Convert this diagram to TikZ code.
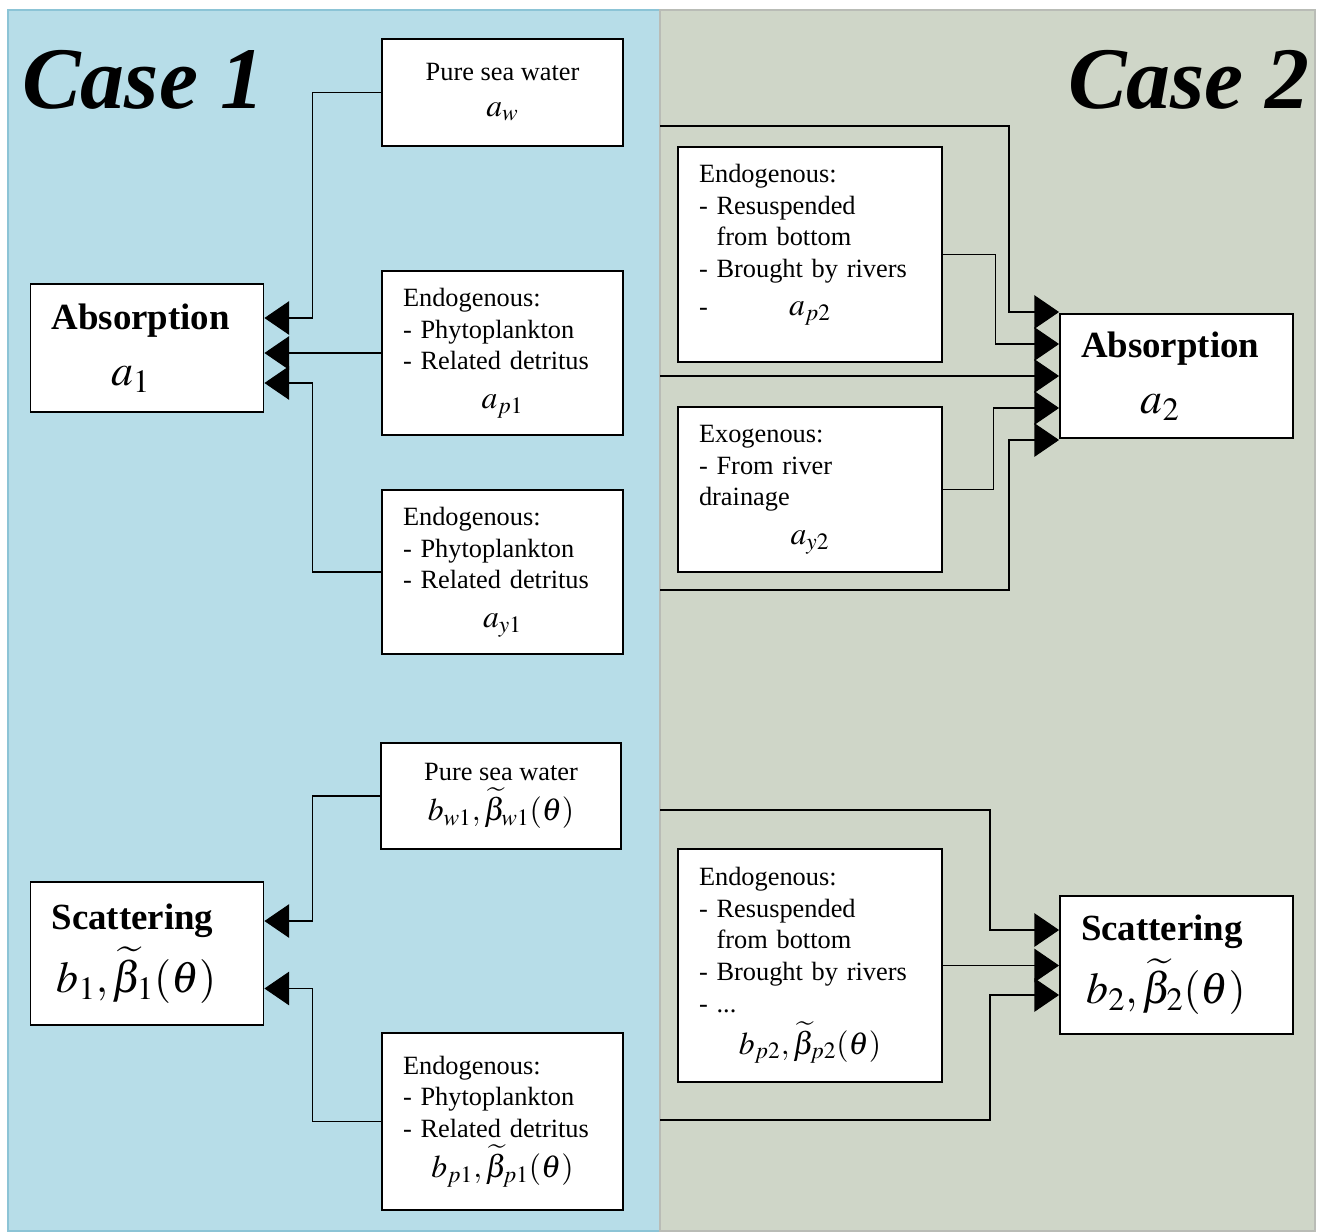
\documentclass[tikz,border=0pt]{standalone}
\usepackage{mathptmx}
\usepackage{fontspec}
\setmainfont{Liberation Serif}
\usetikzlibrary{arrows.meta,positioning}
\definecolor{caseone}{RGB}{183,221,232}
\definecolor{caseoneline}{RGB}{140,196,214}
\definecolor{casetwo}{RGB}{207,214,200}
\definecolor{casetwoline}{RGB}{185,188,182}
\newcommand{\coef}[1]{{\fontsize{18}{22}\selectfont$#1$}}
\newcommand{\Coef}[1]{{\fontsize{25}{30}\selectfont$#1$}}
\tikzset{
	box/.style={draw,line width=1.1pt,fill=white,inner xsep=0.42cm,inner ysep=0pt,font=\fontsize{15}{18}\selectfont},
	srcl/.style={box,align=left,text width=3.98cm,minimum width=4.82cm},
	srcr/.style={box,align=left,text width=4.44cm,minimum width=5.28cm},
	total/.style={box,align=left,text width=3.82cm,minimum width=4.66cm,font=\fontsize{21}{32}\selectfont\bfseries},
	casename/.style={inner sep=0pt,font=\fontsize{50}{60}\selectfont\bfseries\itshape},
	link/.style={line width=0.6pt,-{Triangle[length=14pt,width=19pt]}}
}

\begin{document}
\begin{tikzpicture}[x=0.02cm,y=-0.02cm]
	\useasboundingbox (0,0) rectangle (1325,1231);
	\filldraw[fill=caseone,draw=caseoneline,line width=0.8pt] (8,10) rectangle (660,1231);
	\filldraw[fill=casetwo,draw=casetwoline,line width=0.8pt] (660,10) rectangle (1315,1231);

	\node[casename,anchor=base west] (case1) at (22,108) {Case 1};
	\node[casename,anchor=base east] (case2) at (1310,108) {Case 2};

	\node[box,align=center,minimum width=4.82cm,minimum height=2.14cm] (aw) at (502.5,92.5)
		{Pure sea water\\[2pt]\coef{a_{w}}};
	\node[srcl,minimum height=3.28cm] (ap1) at (502.5,353)
		{Endogenous:\\- Phytoplankton\\- Related detritus\\[4pt]\makebox[\linewidth]{\coef{a_{p1}}}};
	\node[srcl,minimum height=3.28cm] (ay1) at (502.5,572)
		{Endogenous:\\- Phytoplankton\\- Related detritus\\[4pt]\makebox[\linewidth]{\coef{a_{y1}}}};
	\node[total,minimum height=2.56cm] (A1) at (147,348)
		{Absorption\\\hspace*{34pt}\Coef{a_{1}}};

	\node[box,align=center,minimum width=4.8cm,minimum height=2.12cm] (bw1) at (501,796)
		{Pure sea water\\[3pt]\coef{b_{w1},\widetilde{\beta}_{w1}(\theta)}};
	\node[srcl,minimum height=3.54cm] (bp1) at (502.5,1121.5)
		{Endogenous:\\- Phytoplankton\\- Related detritus\\[3pt]\makebox[\linewidth]{\coef{b_{p1},\widetilde{\beta}_{p1}(\theta)}}};
	\node[total,minimum height=2.86cm,font=\fontsize{21}{36}\selectfont\bfseries] (S1) at (147,953.5)
		{Scattering\\\hspace*{3pt}\Coef{b_{1},\widetilde{\beta}_{1}(\theta)}};

	\node[srcr,minimum height=4.3cm] (ap2) at (810,254.5)
		{Endogenous:\\- Resuspended\\\hphantom{-}\ from bottom\\- Brought by rivers\\[4pt]\leavevmode\rlap{-}\makebox[\linewidth]{\coef{a_{p2}}}\par\vspace{11pt}\hrule height 0pt};
	\node[srcr,minimum height=3.3cm] (ay2) at (810,489.5)
		{Exogenous:\\- From river\\drainage\\[4pt]\makebox[\linewidth]{\coef{a_{y2}}}};
	\node[total,minimum height=2.48cm] (A2) at (1176.5,376)
		{Absorption\\\hspace*{34pt}\Coef{a_{2}}};

	\node[srcr,minimum height=4.66cm] (bp2) at (810,965.5)
		{Endogenous:\\- Resuspended\\\hphantom{-}\ from bottom\\- Brought by rivers\\- ...\\[4pt]\makebox[\linewidth]{\coef{b_{p2},\widetilde{\beta}_{p2}(\theta)}}};
	\node[total,minimum height=2.76cm,font=\fontsize{21}{36}\selectfont\bfseries] (S2) at (1176.5,965)
		{Scattering\\\hspace*{3pt}\Coef{b_{2},\widetilde{\beta}_{2}(\theta)}};

	\coordinate (awout) at (660,126);
	\coordinate (apout) at (660,376);
	\coordinate (ayout) at (660,590);
	\coordinate (bwout) at (660,810);
	\coordinate (bpout) at (660,1120);

	\draw[link] (aw.west) -- ++(-69,0) |- ([yshift=.6cm]A1.east);
	\draw[link] (ap1.west) -- (ap1.west -| A1.east);
	\draw[link] (ay1.west) -- ++(-69,0) |- ([yshift=-.7cm]A1.east);
	\draw[link] (bw1.west) -- ++(-68,0) |- ([yshift=.65cm]S1.east);
	\draw[link] (bp1.west) -- ++(-69,0) |- ([yshift=-.7cm]S1.east);

	\draw[link] (awout) -- ++(349,0) |- ([yshift=1.28cm]A2.west);
	\draw[link] (ap2.east) -- ++(53,0) |- ([yshift=.64cm]A2.west);
	\draw[link] (apout) -- (apout -| A2.west);
	\draw[link] (ay2.east) -- ++(51,0) |- ([yshift=-.64cm]A2.west);
	\draw[link] (ayout) -- ++(349,0) |- ([yshift=-1.28cm]A2.west);
	\draw[link] (bwout) -- ++(330,0) |- ([yshift=.7cm]S2.west);
	\draw[link] (bp2.east) -- (bp2.east -| S2.west);
	\draw[link] (bpout) -- ++(330,0) |- ([yshift=-.6cm]S2.west);
\end{tikzpicture}
\end{document}
